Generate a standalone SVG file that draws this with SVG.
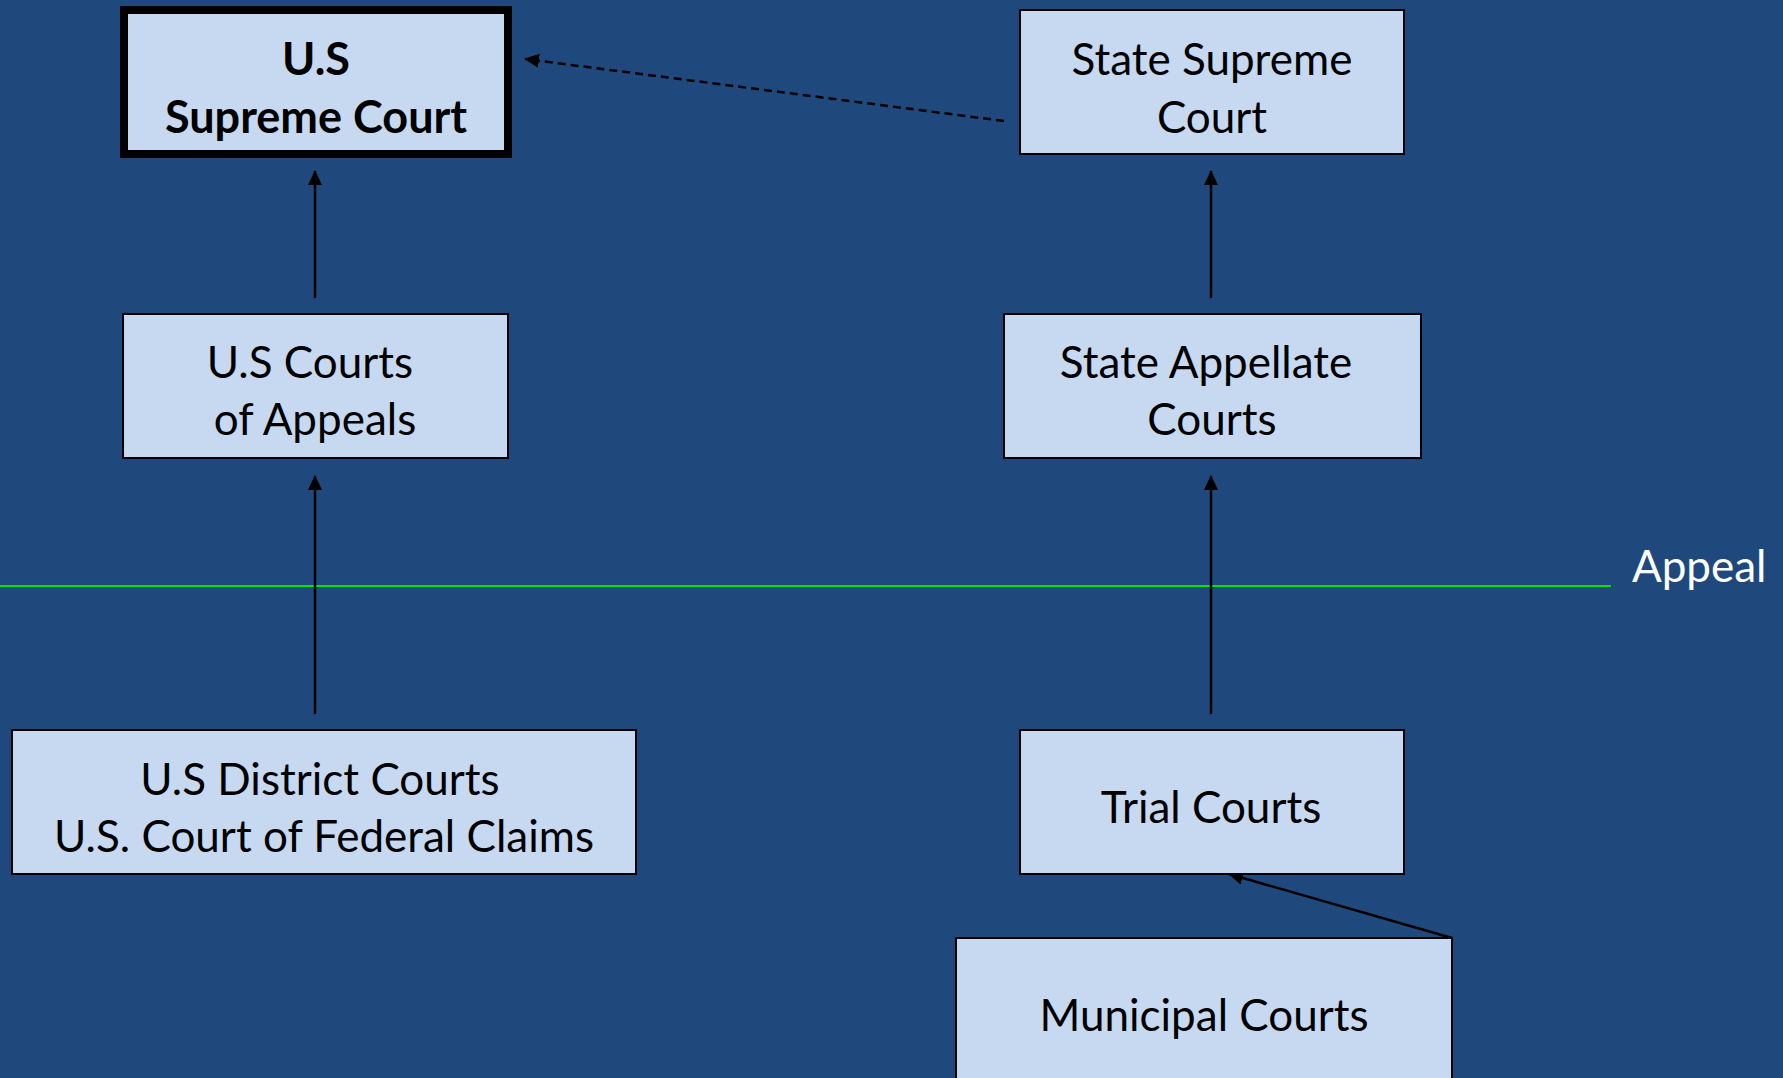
<svg xmlns="http://www.w3.org/2000/svg" width="1783" height="1078" viewBox="0 0 1783 1078">
  <style>
    .box { fill: #C6D9F1; stroke: #000; stroke-width: 2; }
    .label { font-family: Lato, "Open Sans", "Liberation Sans", sans-serif; font-size: 44px; fill: #000; text-anchor: middle; }
    .bold { font-weight: bold; font-size: 45px; }
    .conn { stroke: #000; stroke-width: 2.5; fill: none; }
  </style>
  <defs>
    <marker id="arrow" markerUnits="userSpaceOnUse" markerWidth="15" markerHeight="14" refX="14" refY="7" orient="auto">
      <path d="M0,0 L15,7 L0,14 z" fill="#000"/>
    </marker>
  </defs>

  <rect width="1783" height="1078" fill="#1F497D"/>

  <!-- appeal threshold -->
  <g id="appeal-line">
    <line x1="0" y1="586" x2="1611" y2="586" stroke="#00E600" stroke-width="2"/>
    <text x="1632" y="582" font-family="Lato, 'Open Sans', 'Liberation Sans', sans-serif" font-size="44" fill="#FFFFFF">Appeal</text>
  </g>

  <g id="connectors">
    <line class="conn" x1="315" y1="298" x2="315" y2="171" marker-end="url(#arrow)"/>
    <line class="conn" x1="315" y1="714" x2="315" y2="476" marker-end="url(#arrow)"/>
    <line class="conn" x1="1211" y1="298" x2="1211" y2="171" marker-end="url(#arrow)"/>
    <line class="conn" x1="1211" y1="714" x2="1211" y2="476" marker-end="url(#arrow)"/>
    <line class="conn" x1="1004" y1="121" x2="525" y2="59" stroke-dasharray="8,5" marker-end="url(#arrow)"/>
    <line class="conn" x1="1452" y1="938" x2="1229" y2="874" marker-end="url(#arrow)"/>
  </g>

  <g id="us-supreme-court">
    <rect x="124" y="10" width="384" height="144" fill="#C6D9F1" stroke="#000" stroke-width="8"/>
    <text class="label bold" x="316" y="75">U.S</text>
    <text class="label bold" x="316" y="133">Supreme Court</text>
  </g>

  <g id="state-supreme-court">
    <rect class="box" x="1020" y="10" width="384" height="144"/>
    <text class="label" x="1212" y="75">State Supreme</text>
    <text class="label" x="1212" y="133">Court</text>
  </g>

  <g id="us-courts-of-appeals">
    <rect class="box" x="123" y="314" width="385" height="144"/>
    <text class="label" x="310" y="378">U.S Courts</text>
    <text class="label" x="315" y="435">of Appeals</text>
  </g>

  <g id="state-appellate-courts">
    <rect class="box" x="1004" y="314" width="417" height="144"/>
    <text class="label" x="1206" y="378">State Appellate</text>
    <text class="label" x="1212" y="435">Courts</text>
  </g>

  <g id="us-district-courts">
    <rect class="box" x="12" y="730" width="624" height="144"/>
    <text class="label" x="320" y="795">U.S District Courts</text>
    <text class="label" x="324" y="852">U.S. Court of Federal Claims</text>
  </g>

  <g id="trial-courts">
    <rect class="box" x="1020" y="730" width="384" height="144"/>
    <text class="label" x="1211" y="823">Trial Courts</text>
  </g>

  <g id="municipal-courts">
    <rect class="box" x="956" y="938" width="496" height="170"/>
    <text class="label" x="1204" y="1031">Municipal Courts</text>
  </g>
</svg>
